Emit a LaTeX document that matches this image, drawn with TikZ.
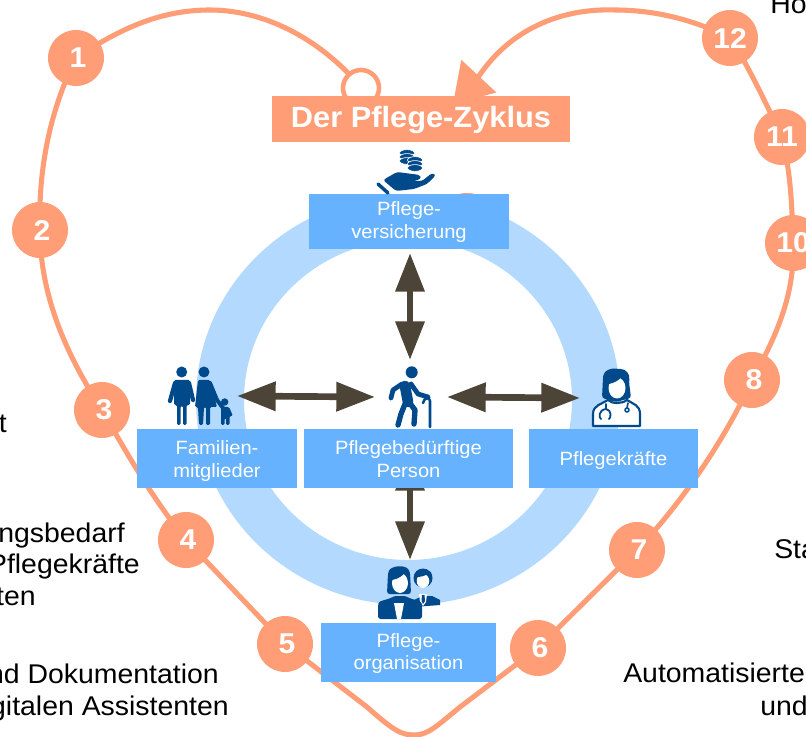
\documentclass[tikz,border=0pt]{standalone}
\usepackage{fontspec}
\setmainfont{Liberation Sans}[FakeStretch=1.05]
\usetikzlibrary{arrows.meta,backgrounds}
\definecolor{herzorange}{HTML}{FF9D76}
\definecolor{ringblau}{HTML}{B3D9FF}
\definecolor{boxblau}{HTML}{66B2FF}
\definecolor{iconblau}{HTML}{004A8C}
\definecolor{pfeilbraun}{HTML}{4D4438}
\tikzset{%
	pbox/.style     = {fill=boxblau, text=white, align=center, inner sep=0pt, text depth=0pt, text height=27.8pt,
		font=\fontsize{14.4pt}{16.8pt}\selectfont},
	num/.style      = {circle, fill=herzorange, text=white, minimum size=42pt, inner sep=0pt,
		font=\fontsize{21.5pt}{21.5pt}\selectfont\bfseries},
	title/.style    = {fill=herzorange, text=white, minimum width=223.5pt, minimum height=34.5pt,
		inner sep=0pt, text depth=0pt, text height=13.5pt, font=\fontsize{22pt}{22pt}\selectfont\bfseries},
	knob/.style     = {circle, draw=herzorange, fill=white, line width=3.4pt, minimum size=27pt, inner sep=0pt},
	herzlinie/.style = {draw=herzorange, line width=3.8pt},
	dblarrow/.style = {pfeilbraun, line width=5pt,
		{Triangle[length=29pt,width=21pt]}-{Triangle[length=29pt,width=21pt]}},
	schwarz/.style  = {inner sep=0pt, font=\fontsize{20.3pt}{24pt}\selectfont},
	ico/.style      = {fill=iconblau, draw=none},
	icl/.style      = {draw=iconblau, line cap=round, line join=round}
}
\begin{document}
\begin{tikzpicture}[x=0.75pt,y=-0.75pt]
	\useasboundingbox (0,0) rectangle (806,737);

	\foreach \n/\x/\y in {1/76/58, 2/40/230, 3/102/410, 4/186/540, 5/285/644, 6/538/648,
		7/637/550, 8/752/380, 10/793/243, 11/782/137, 12/730/38}
		\node[num] (n\n) at (\x,\y) {\ifnum\n<10 \hspace*{3pt}\fi\n};

	\node[knob] (start) at (361,88) {};
	\node[title] (titel) at (421,119) {Der Pflege-Zyklus};

	\node[pbox, minimum width=150pt, minimum height=41.25pt, text height=24.8pt] (versicherung) at (409,221.5) {Pflege-\\versicherung};
	\node[pbox, minimum width=120pt, minimum height=44.25pt] (familie) at (217,458.5) {Familien-\\mitglieder};
	\node[pbox, minimum width=156.75pt, minimum height=44.25pt] (person) at (408.5,458.5) {Pflegebedürftige\\Person};
	\node[pbox, minimum width=126.75pt, minimum height=44.25pt, text height=9.75pt] (kraefte) at (613.5,458.5) {Pflegekräfte};
	\node[pbox, minimum width=131.25pt, minimum height=44.25pt, text height=26.2pt] (organisation) at (408.5,652.5) {Pflege-\\organisation};

	\coordinate (famspitze) at (237,396);
	\coordinate (perslinks) at (375,397);
	\coordinate (persrechts) at (447,397);
	\coordinate (kraftspitze) at (580,398);
	\coordinate (versspitze) at (410,253);
	\coordinate (persoben) at (410,360);
	\coordinate (persunten) at (410,452);
	\coordinate (orgspitze) at (410,560);
	\coordinate (herzspitze) at (453,104);

	\begin{scope}[on background layer]
		\fill[ringblau, even odd rule] (408,400) ellipse (212 and 205) (408,400) ellipse (164 and 160);
		\fill[herzorange] (467,209) ellipse (24 and 16);
		\draw[dblarrow] (famspitze) -- (perslinks);
		\draw[dblarrow] (persrechts) -- (kraftspitze);
		\draw[dblarrow] (versspitze) -- (persoben);
		\draw[dblarrow] (persunten) -- (orgspitze);
		\draw[herzlinie] (start.center) -- (347,72) .. controls (305,30) and (255,10) .. (210,10) .. controls (165,10) and (125,25) .. (n1.center)
			.. controls (50,110) and (38,170) .. (n2.center) .. controls (40,300) and (70,360) .. (n3.center)
			.. controls (125,450) and (150,495) .. (n4.center) -- (n5.center) -- (367,707)
			.. controls (395,732) and (402,735) .. (415,735) .. controls (428,735) and (438,725) .. (460,707) -- (n6.center);
		\draw[herzlinie, -{Triangle[length=28.5pt,width=35pt]}] (n6.center) -- (n7.center) .. controls (680,505) and (725,440) .. (n8.center)
			.. controls (780,330) and (795,290) .. (n10.center) .. controls (792,200) and (790,170) .. (n11.center)
			.. controls (762,95) and (745,60) .. (n12.center) .. controls (695,20) and (655,10) .. (615,10)
			.. controls (560,8) and (510,30) .. (479,76) -- (herzspitze);
	\end{scope}

	% Muenzen und Hand
	\foreach \cx/\cy in {407/153, 407/157, 407/161, 415/160, 415/164, 415/168}
		\fill[iconblau, draw=white, line width=0.5pt] (\cx,\cy) ellipse (7.5 and 3.4);
	\fill[ico, rounded corners=2pt] (383,180) -- (397,172) -- (420,175) -- (421,179) -- (413,181) -- (422,181) -- (432,173) -- (436,175)
		-- (427,184) -- (414,189) -- (396,191) -- cycle;
	\draw[icl, line width=2.6pt] (378,184) -- (388,193);

	% Familie
	\fill[ico] (181.7,372) circle (5.5);
	\fill[ico] (204,372) circle (5.5);
	\fill[ico] (224.7,402) circle (3.7);
	\fill[ico, rounded corners=1pt] (174,380) -- (190,380) -- (190,405) -- (186.5,405) -- (186.5,425) -- (183,425) -- (183,406) -- (180.5,406) -- (180.5,425)
		-- (177,425) -- (177,405) -- (174,405) -- cycle;
	\draw[icl, line width=3.2pt] (175,383) -- (170,401);
	\draw[icl, line width=3.2pt] (189,383) -- (193,400);
	\fill[ico, rounded corners=1pt] (198,380) -- (210,380) -- (217,407) -- (210,407) -- (210,425) -- (206,425) -- (206,407) -- (204,407) -- (203,425)
		-- (199,425) -- (198,407) -- (195,407) -- cycle;
	\draw[icl, line width=3pt] (210,383) -- (217,400) -- (223,408);
	\fill[ico, rounded corners=1pt] (221,407) -- (229,407) -- (233,416) -- (229.5,416) -- (229.5,425) -- (226,425) -- (226,418) -- (224.5,418) -- (224.5,425) -- (221,425) -- cycle;

	% Person mit Stock
	\fill[ico] (411.7,372.3) circle (6);
	\draw[icl, line width=8pt] (405,386) -- (408,402);
	\draw[icl, line width=3.6pt] (402,384) -- (393,390) -- (391,398);
	\draw[icl, line width=3.6pt] (411,384) -- (418,394) -- (428,397);
	\draw[icl, line width=4pt] (405,404) -- (401,414) -- (398,425);
	\draw[icl, line width=4pt] (409,402) -- (415,410) -- (414,424);
	\draw[icl, line width=1.9pt] (430,427) -- (430,401) .. controls (430,397) and (424,397) .. (423,403);

	% Pflegekraft
	\fill[ico, rounded corners=2pt] (602,398) -- (603,378) .. controls (604,370) and (612,368) .. (618,369) .. controls (626,369) and (630,374) .. (629,382) -- (631,398) -- (616,402) -- cycle;
	\fill[white] (617,388) ellipse (8.5 and 10.5);
	\fill[ico] (609,384) .. controls (614,383) and (620,380) .. (622,376) .. controls (623,380) and (625,383) .. (626,384) -- (626,374) -- (609,374) -- cycle;
	\draw[icl, line width=1.6pt, fill=white] (593,426) -- (593,414) .. controls (593,405) and (602,404) .. (608,400) .. controls (612,404) and (622,404) .. (627,400) .. controls (633,404) and (640,405) .. (640,414) -- (640,426) -- cycle;
	\draw[icl, line width=1.4pt] (606,404) -- (606,409) .. controls (598,410) and (599,418) .. (601,419) (606,409) .. controls (612,410) and (611,418) .. (609,419);
	\draw[icl, line width=1.2pt] (628,403) -- (627,408) (627,410) circle (2);

	% Pflegeorganisation
	\fill[ico] (414,600) -- (422,596) -- (432,596) -- (440,600) -- (440,605) -- (414,607) -- cycle;
	\fill[ico] (423,578) circle (9.5);
	\fill[white] (423,581) ellipse (6.3 and 7);
	\fill[ico] (416,577) .. controls (421,577) and (426,576) .. (428,573) -- (431,578) -- (431,572) -- (416,571) -- cycle;
	\fill[white] (419,594) -- (427,594) -- (426,602) -- (423,606) -- (420,602) -- cycle;
	\fill[ico] (422,595) -- (424.5,595) -- (425,601) -- (423,604) -- (421.5,601) -- cycle;
	\fill[ico, rounded corners=2pt] (387,594) -- (388,573) .. controls (391,566) and (405,564) .. (410,572) -- (411,594) -- cycle;
	\fill[white] (400,583) ellipse (8 and 10);
	\fill[ico] (392,580) .. controls (398,579) and (403,576) .. (405,572) -- (408,580) -- (408,570) -- (392,570) -- cycle;
	\fill[ico, rounded corners=2pt] (378,619) -- (378,606) .. controls (379,600) and (388,600) .. (394,596) -- (406,596) .. controls (412,600) and (421,600) .. (422,606) -- (422,619) -- cycle;
	\fill[white] (394,603) -- (404,603) -- (401,619) -- (397,619) -- cycle;

	\node[schwarz, anchor=base west] (txthoch) at (770,14) {Ho};
	\node[schwarz, anchor=base east] (txtt) at (7,432) {t};
	\node[schwarz, anchor=base east] (txtbedarf) at (125,542) {ngsbedarf};
	\node[schwarz, anchor=base east] (txtkraefte) at (140,573) {Pflegekräfte};
	\node[schwarz, anchor=base east] (txtten) at (36,605) {ten};
	\node[schwarz, anchor=base east] (txtdoku) at (219,683) {nd Dokumentation};
	\node[schwarz, anchor=base east] (txtassist) at (229,715) {gitalen Assistenten};
	\node[schwarz, anchor=base west] (txtsta) at (774,558) {Sta};
	\node[schwarz, anchor=base west] (txtauto) at (623,682) {Automatisierte};
	\node[schwarz, anchor=base west] (txtund) at (760,715) {und};
\end{tikzpicture}
\end{document}
